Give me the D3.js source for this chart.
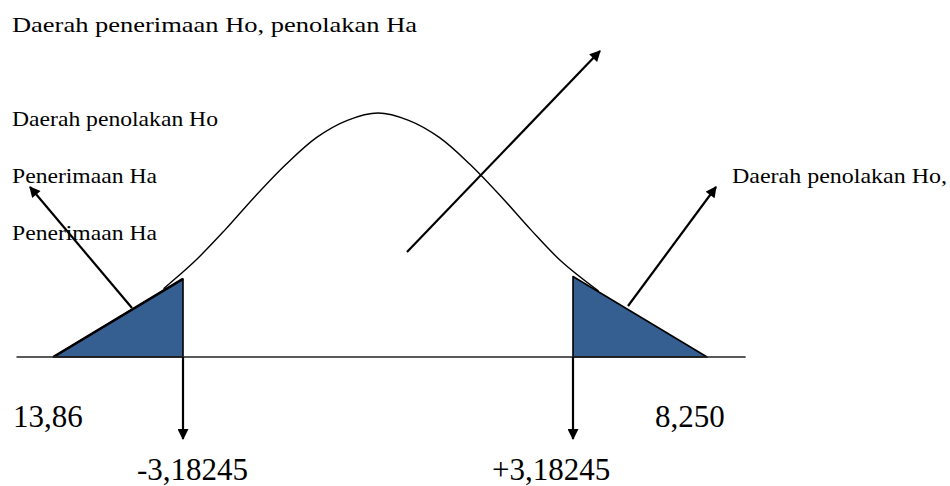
<!DOCTYPE html>
<html>
<head>
<meta charset="utf-8">
<script src="https://cdn.jsdelivr.net/npm/d3@7"></script>
<style>
  html, body { margin: 0; padding: 0; background: #fff; }
  svg { display: block; }
</style>
</head>
<body>
<svg id="chart" width="950" height="486"></svg>
<script>
// ---- data ----
const critical = [-3.18245, 3.18245];            // critical t values
const criticalLabels = ["-3,18245", "+3,18245"];
const statLabels = ["13,86", "8,250"];            // statistics shown at the tails
const axisExtent = [-5.9, 6.0];
const curveX = [-3.5, -3, -2.5, -2, -1.5, -1, -0.5, 0, 0.5, 1, 1.5, 2, 2.5, 3, 3.6];
const curveY = [0.28, 0.39, 0.52, 0.66, 0.79, 0.90, 0.97, 1.00, 0.97, 0.90, 0.79, 0.66, 0.52, 0.39, 0.27];
const leftTail = [[-5.3, 0], [-3.18245, 0.32], [-3.18245, 0]];
const rightTail = [[3.18245, 0.33], [3.18245, 0], [5.37, 0]];
const regionLabels = [
  "Daerah penerimaan Ho, penolakan Ha",
  "Daerah penolakan Ho",
  "Penerimaan Ha",
  "Penerimaan Ha",
  "Daerah penolakan Ho,"
];

const FONT = "'Liberation Serif', 'Times New Roman', Times, serif";
const svg = d3.select("#chart");
const x = d3.scaleLinear().domain(critical).range([183, 573]);
const y = d3.scaleLinear().domain([0, 1]).range([357, 113]);

const defs = svg.append("defs");
defs.append("marker")
  .attr("id", "head").attr("viewBox", "0 0 10 10")
  .attr("refX", 9).attr("refY", 5)
  .attr("markerWidth", 5.5).attr("markerHeight", 5)
  .attr("markerUnits", "strokeWidth")
  .attr("orient", "auto")
  .append("path").attr("d", "M0,0 L10,5 L0,10 Z").attr("fill", "#000");

// tails
const tailLine = d3.line().x(d => x(d[0])).y(d => y(d[1]));
[leftTail, rightTail].forEach(t => {
  svg.append("path")
    .attr("d", tailLine(t) + "Z")
    .attr("fill", "#365F91")
    .attr("stroke", "#000").attr("stroke-width", 1.6)
    .attr("stroke-linejoin", "round");
});
svg.append("line")
  .attr("x1", x(leftTail[0][0])).attr("y1", y(leftTail[0][1]))
  .attr("x2", x(leftTail[1][0])).attr("y2", y(leftTail[1][1]))
  .attr("stroke", "#000").attr("stroke-width", 2.6);

// axis line
svg.append("line")
  .attr("x1", x(axisExtent[0])).attr("x2", x(axisExtent[1]))
  .attr("y1", y(0)).attr("y2", y(0))
  .attr("stroke", "#222").attr("stroke-width", 1.5);

// bell curve
const bell = d3.line().x(d => x(d)).y((d, i) => y(curveY[i])).curve(d3.curveCatmullRom);
svg.append("path").attr("d", bell(curveX))
  .attr("fill", "none").attr("stroke", "#000").attr("stroke-width", 1.4);

// arrows
function arrow(x1, y1, x2, y2) {
  svg.append("line")
    .attr("x1", x1).attr("y1", y1).attr("x2", x2).attr("y2", y2)
    .attr("stroke", "#000").attr("stroke-width", 2.2)
    .attr("marker-end", "url(#head)");
}
critical.forEach(c => arrow(x(c), y(0), x(c), 439));
arrow(132, 308, 30, 187);
arrow(407, 252, 600, 51);
arrow(628, 306, 716, 187);

// texts
function label(str, tx, ty, size, len) {
  const t = svg.append("text").attr("x", tx).attr("y", ty)
    .attr("font-family", FONT).attr("font-size", size).attr("fill", "#000").text(str);
  if (len) t.attr("textLength", len).attr("lengthAdjust", "spacingAndGlyphs");
  return t;
}
label(regionLabels[0], 12, 32, 21, 405);
label(regionLabels[1], 12, 126, 21, 206);
label(regionLabels[2], 12, 183, 21, 145);
label(regionLabels[3], 12, 240, 21, 145);
label(regionLabels[4], 732, 183, 21, 215);

label(statLabels[0], 13, 427, 31);
label(statLabels[1], 655, 427, 31);
label(criticalLabels[0], 137, 480, 31);
label(criticalLabels[1], 492, 480, 31);
</script>
</body>
</html>
